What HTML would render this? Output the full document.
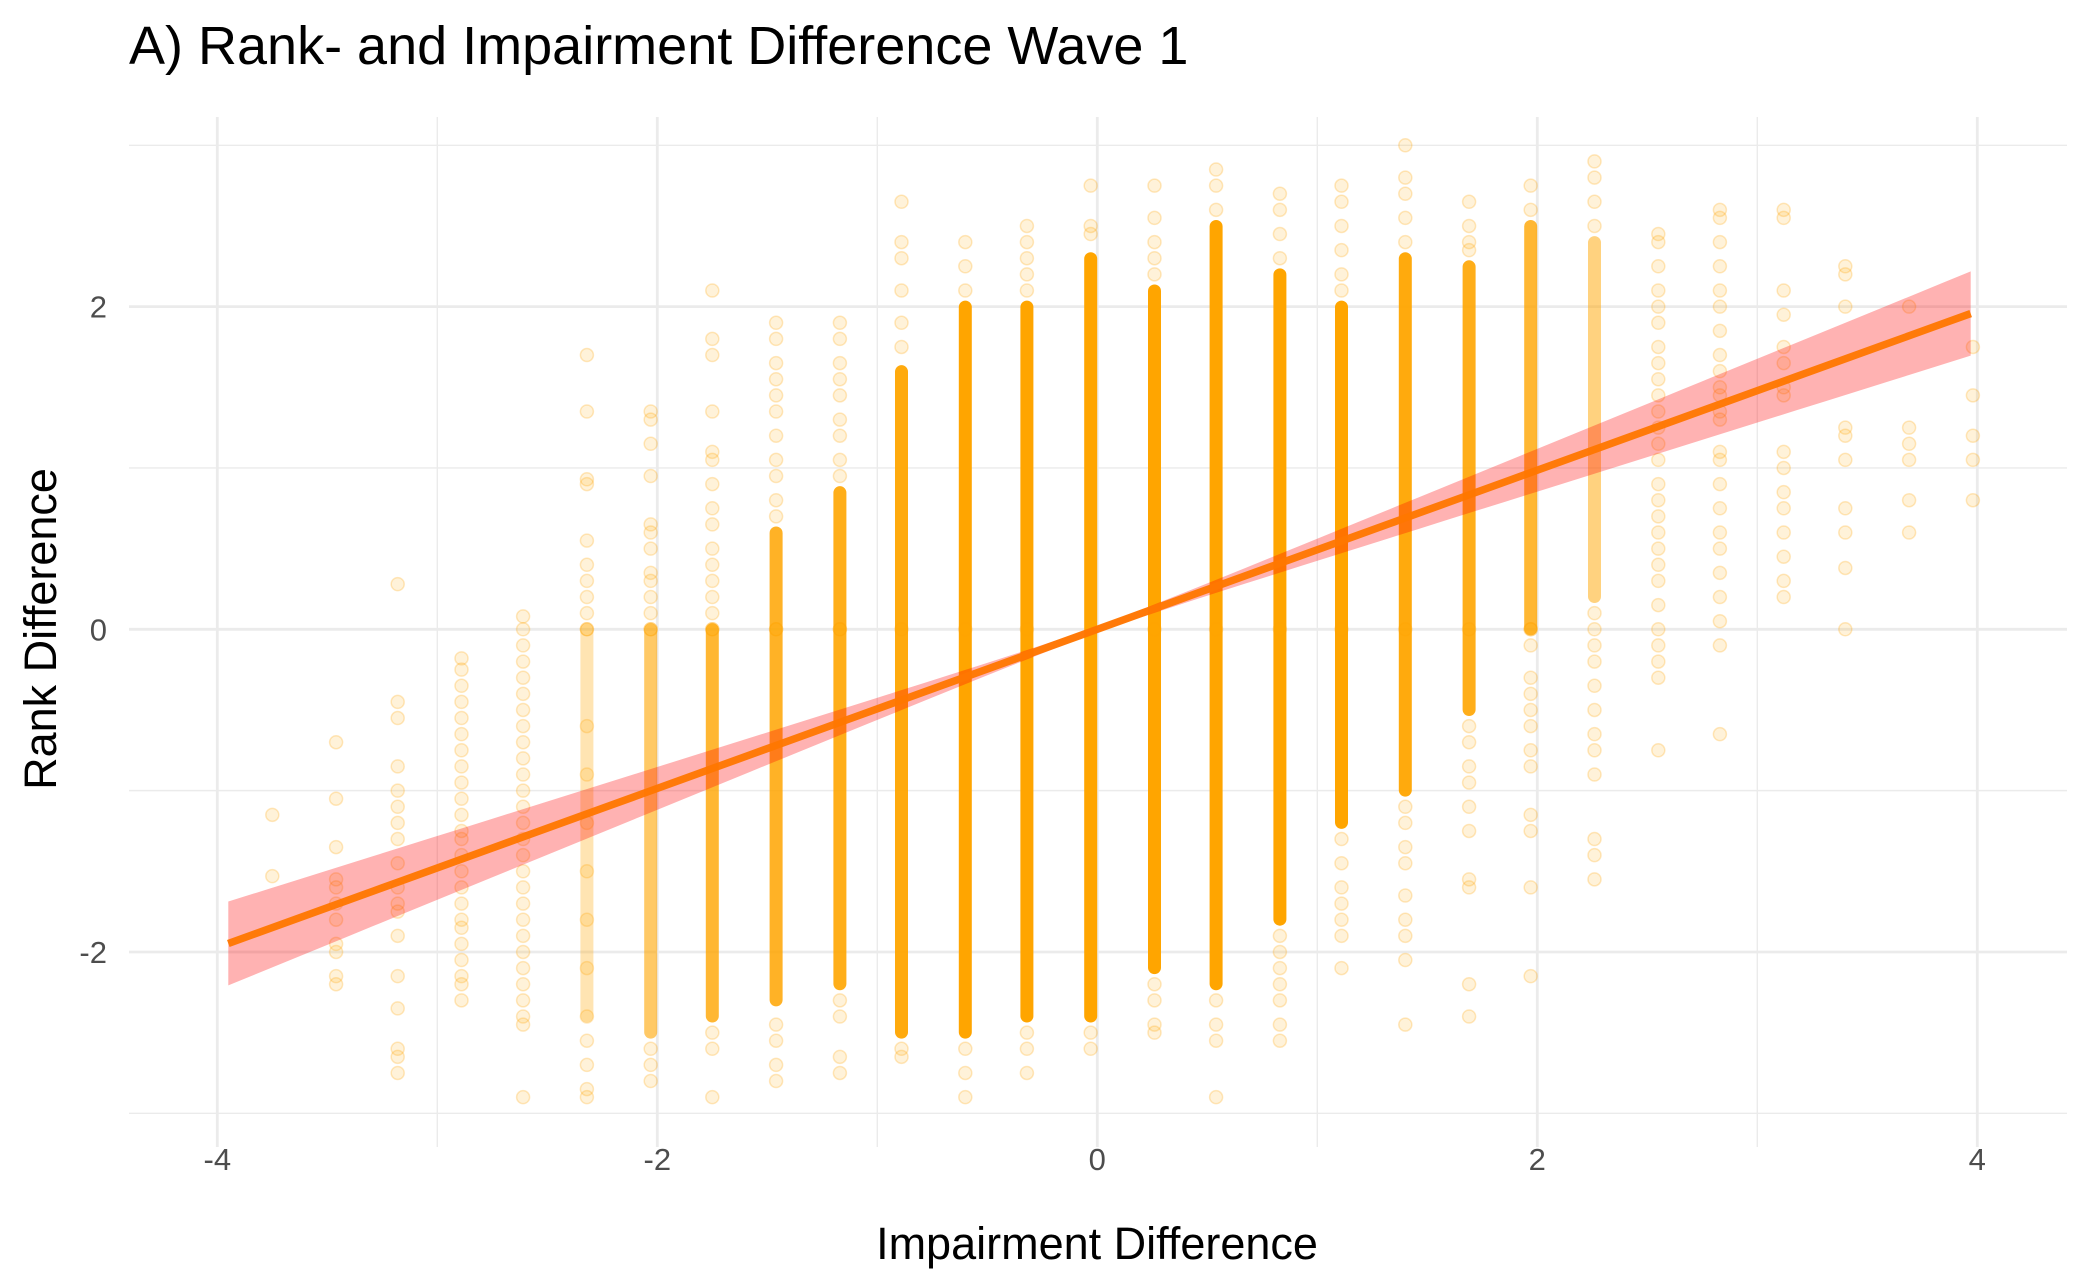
<!DOCTYPE html>
<html><head><meta charset="utf-8"><style>
html,body{margin:0;padding:0;background:#fff;}
svg{display:block;font-family:"Liberation Sans",Arial,sans-serif;}
</style></head><body>
<svg id="chart" width="2080" height="1285" viewBox="0 0 2080 1285" xmlns="http://www.w3.org/2000/svg">
<rect width="2080" height="1285" fill="#fff"/>
<text x="129" y="64" font-size="54" fill="#000">A) Rank- and Impairment Difference Wave 1</text>
<g id="grid"></g>
<g id="dense"></g>
<g id="points"></g>
<g id="fit"></g>
<g id="axes"></g>
<text x="1097" y="1259" font-size="45" text-anchor="middle" fill="#000">Impairment Difference</text>
<text transform="translate(56,629) rotate(-90)" font-size="45" text-anchor="middle" fill="#000">Rank Difference</text>
</svg>
<script>
const xTicks = [-4, -2, 0, 2, 4];
const yTicks = [-2, 0, 2];
const xMinor = [-3, -1, 1, 3];
const yMinor = [-3, -1, 1, 3];
const colX = [-3.75,-3.46,-3.18,-2.89,-2.61,-2.32,-2.03,-1.75,-1.46,-1.17,-0.89,-0.6,-0.32,-0.03,0.26,0.54,0.83,1.11,1.40,1.69,1.97,2.26,2.55,2.83,3.12,3.40,3.69,3.98];
const denseLo = [null,null,null,null,null,-2.4,-2.5,-2.4,-2.3,-2.2,-2.5,-2.5,-2.4,-2.4,-2.1,-2.2,-1.8,-1.2,-1.0,-0.5,0,0.2,null,null,null,null,null,null];
const denseHi = [null,null,null,null,null,0,0,0,0.6,0.85,1.6,2.0,2.0,2.3,2.1,2.5,2.2,2.0,2.3,2.25,2.5,2.4,null,null,null,null,null,null];
const denseAlpha = [0,0,0,0,0,0.3,0.6,0.8,0.85,0.9,0.95,1,1,1,1,1,1,1,0.95,0.9,0.8,0.5,0,0,0,0,0,0];
const sparse = [
[-1.15,-1.53],
[-0.7,-1.05,-1.35,-1.55,-1.6,-1.7,-1.8,-1.95,-2.0,-2.15,-2.2],
[0.28,-0.45,-0.55,-0.85,-1.0,-1.1,-1.2,-1.3,-1.45,-1.6,-1.7,-1.75,-1.9,-2.15,-2.35,-2.6,-2.65,-2.75],
[-0.18,-0.25,-0.35,-0.45,-0.55,-0.65,-0.75,-0.85,-0.95,-1.05,-1.15,-1.25,-1.3,-1.4,-1.5,-1.6,-1.7,-1.8,-1.85,-1.95,-2.05,-2.15,-2.2,-2.3],
[0.08,0,-0.1,-0.2,-0.3,-0.4,-0.5,-0.6,-0.7,-0.8,-0.9,-1.0,-1.1,-1.2,-1.3,-1.4,-1.5,-1.6,-1.7,-1.8,-1.9,-2.0,-2.1,-2.2,-2.3,-2.4,-2.45,-2.9],
[1.7,1.35,0.93,0.9,0.55,0.4,0.3,0.2,0.1,0,0,-0.6,-0.9,-1.2,-1.5,-1.8,-2.1,-2.4,-2.55,-2.7,-2.85,-2.9],
[1.35,1.3,1.15,0.95,0.65,0.6,0.5,0.35,0.3,0.2,0.1,0,0,-2.6,-2.7,-2.8],
[2.1,1.8,1.7,1.35,1.1,1.05,0.9,0.75,0.65,0.5,0.4,0.3,0.2,0.1,0,0,-2.5,-2.6,-2.9],
[1.9,1.8,1.65,1.55,1.45,1.35,1.2,1.05,0.95,0.8,0.7,0,0,-2.45,-2.55,-2.7,-2.8],
[1.9,1.8,1.65,1.55,1.45,1.3,1.2,1.05,0.95,0,0,-2.3,-2.4,-2.65,-2.75],
[2.65,2.4,2.3,2.1,1.9,1.75,0,-2.6,-2.65],
[2.4,2.25,2.1,0,-2.6,-2.75,-2.9],
[2.5,2.4,2.3,2.2,2.1,0,-2.5,-2.6,-2.75],
[2.75,2.5,2.45,-2.5,-2.6],
[2.75,2.55,2.4,2.3,2.2,0,-2.2,-2.3,-2.45,-2.5],
[2.85,2.75,2.6,0,-2.3,-2.45,-2.55,-2.9],
[2.7,2.6,2.45,2.3,0,-1.9,-2.0,-2.1,-2.2,-2.3,-2.45,-2.55],
[2.75,2.65,2.5,2.35,2.2,2.1,0,-1.3,-1.45,-1.6,-1.7,-1.8,-1.9,-2.1],
[3.0,2.8,2.7,2.55,2.4,0,-1.1,-1.2,-1.35,-1.45,-1.65,-1.8,-1.9,-2.05,-2.45],
[2.65,2.5,2.4,2.35,0,-0.6,-0.7,-0.85,-0.95,-1.1,-1.25,-1.55,-1.6,-2.2,-2.4],
[2.75,2.6,0,0,-0.1,-0.3,-0.4,-0.5,-0.6,-0.75,-0.85,-1.15,-1.25,-1.6,-2.15],
[2.9,2.8,2.65,2.5,0.1,0,-0.1,-0.2,-0.35,-0.5,-0.65,-0.75,-0.9,-1.3,-1.4,-1.55],
[2.45,2.4,2.25,2.1,2.0,1.9,1.75,1.65,1.55,1.45,1.35,1.25,1.15,1.05,0.9,0.8,0.7,0.6,0.5,0.4,0.3,0.15,0,-0.1,-0.2,-0.3,-0.75],
[2.6,2.55,2.4,2.25,2.1,2.0,1.85,1.7,1.6,1.5,1.45,1.35,1.3,1.1,1.05,0.9,0.75,0.6,0.5,0.35,0.2,0.05,-0.1,-0.65],
[2.6,2.55,2.1,1.95,1.75,1.65,1.5,1.45,1.1,1.0,0.85,0.75,0.6,0.45,0.3,0.2],
[2.25,2.2,2.0,1.25,1.2,1.05,0.75,0.6,0.38,0],
[2.0,1.25,1.15,1.05,0.8,0.6],
[1.75,1.45,1.2,1.05,0.8]
];
const fitSlope = 0.493;
const fitIntercept = 0.0;
const fitRange = [-3.95, 3.97];
const seBase = 0.0004;
const seCurv = 0.0043;

const NS = "http://www.w3.org/2000/svg";
const PX0 = 129, PX1 = 2067, PY0 = 117, PY1 = 1147;
const xs = v => 1097.3 + v * 220;
const ys = v => 629.3 - v * 121 * 4 / 3;
function mk(tag, attrs, parent) {
  const el = document.createElementNS(NS, tag);
  for (const k in attrs) el.setAttribute(k, attrs[k]);
  parent.appendChild(el);
  return el;
}
const grid = document.getElementById('grid');
yMinor.forEach(v => { const l = mk('line', {x1: PX0, x2: PX1, y1: ys(v), y2: ys(v), stroke: '#ebebeb', 'stroke-width': 1.4}, grid);
  
   });
xMinor.forEach(v => { const l = mk('line', {x1: xs(v), x2: xs(v), y1: PY0, y2: PY1, stroke: '#ebebeb', 'stroke-width': 1.4}, grid);
  
   });
yTicks.forEach(v => { const l = mk('line', {x1: PX0, x2: PX1, y1: ys(v), y2: ys(v), stroke: '#ebebeb', 'stroke-width': 2.8}, grid);
  
   });
xTicks.forEach(v => { const l = mk('line', {x1: xs(v), x2: xs(v), y1: PY0, y2: PY1, stroke: '#ebebeb', 'stroke-width': 2.8}, grid);
  
   });

const dense = document.getElementById('dense');
colX.forEach((x, i) => {
  if (denseLo[i] === null) return;
  const top = ys(denseHi[i]) - 6, bot = ys(denseLo[i]) + 6;
  const r = mk('rect', {x: xs(x) - 6.5, y: top, width: 13, height: bot - top, rx: 6.5, fill: '#FFA500', 'fill-opacity': denseAlpha[i]}, dense);
  
  
});
const pts = document.getElementById('points');
sparse.forEach((arr, i) => {
  arr.forEach(v => {
    const c = mk('circle', {cx: xs(colX[i]), cy: ys(v), r: 6.5, fill: '#FFA500', 'fill-opacity': 0.15, stroke: '#FFA500', 'stroke-opacity': 0.25, 'stroke-width': 1.5}, pts);
    
    
  });
});

const fit = document.getElementById('fit');
const N = 60;
let upper = [], lower = [], line = [];
for (let k = 0; k <= N; k++) {
  const x = fitRange[0] + (fitRange[1] - fitRange[0]) * k / N;
  const y = fitIntercept + fitSlope * x;
  const hw = Math.sqrt(seBase + seCurv * x * x);
  upper.push(xs(x) + ',' + ys(y + hw));
  lower.unshift(xs(x) + ',' + ys(y - hw));
  line.push(xs(x) + ',' + ys(y));
}
const band = mk('polygon', {points: upper.concat(lower).join(' '), fill: '#FF0000', 'fill-opacity': 0.3}, fit);


const fl = mk('polyline', {points: line.join(' '), fill: 'none', stroke: '#FF7700', 'stroke-width': 7.5, 'stroke-opacity': 0.95}, fit);



const axes = document.getElementById('axes');
xTicks.forEach(v => {
  const t = mk('text', {x: xs(v), y: 1170, 'font-size': 31, 'text-anchor': 'middle', fill: '#4d4d4d'}, axes);
  t.textContent = String(v);
  
  
});
yTicks.forEach(v => {
  const t = mk('text', {x: 107, y: ys(v) + 11, 'font-size': 31, 'text-anchor': 'end', fill: '#4d4d4d'}, axes);
  t.textContent = String(v);
  
  
});
</script>
</body></html>
